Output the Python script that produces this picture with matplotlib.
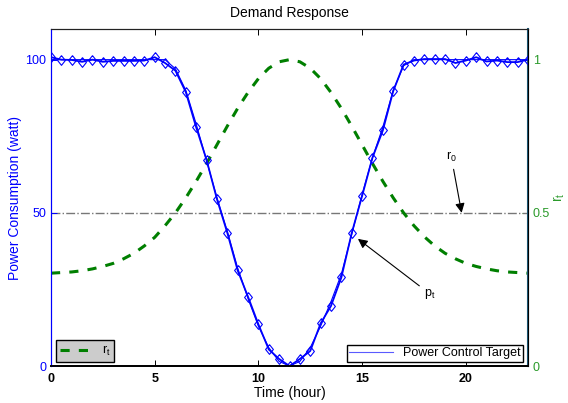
import matplotlib
matplotlib.use("Agg")
import matplotlib.pyplot as plt
import numpy as np

plt.rcParams["font.family"] = ["Liberation Sans", "DejaVu Sans"]
plt.rcParams["mathtext.fontset"] = "custom"
plt.rcParams["mathtext.rm"] = "Liberation Sans"
plt.rcParams["mathtext.it"] = "Liberation Sans"

# ── Data ──────────────────────────────────────────────────────────────────────
hours = np.arange(0, 23.01, 0.5)

power_measured = [100.8, 100.0, 99.9, 99.3, 100.0, 99.3, 99.6, 99.6, 99.6, 99.7,
                  100.8, 98.9, 96.4, 89.4, 77.9, 67.3, 54.5, 43.5, 31.2, 22.6,
                  13.6, 5.4, 2.3, 0.0, 2.3, 4.9, 13.9, 19.6, 28.9, 43.4,
                  55.5, 68.0, 76.9, 89.7, 98.4, 99.7, 100.2, 100.2, 100.2, 98.9,
                  99.7, 100.8, 99.4, 99.7, 99.2, 99.2, 100.0]

power_target = [100, 100, 100, 100, 100, 100, 100, 100, 100, 100,
                100, 100, 97, 90, 79, 67, 55, 44, 32, 22,
                13, 6, 1.5, 0, 1.5, 6, 13, 21, 30, 43,
                56, 68, 78, 90, 98, 100, 100, 100, 100, 100,
                100, 100, 100, 100, 100, 100, 100]

r_t = [0.303, 0.305, 0.307, 0.311, 0.317, 0.325, 0.335, 0.350, 0.368, 0.392,
       0.420, 0.458, 0.500, 0.549, 0.603, 0.661, 0.722, 0.783, 0.841, 0.893,
       0.938, 0.972, 0.993, 1.000, 0.993, 0.972, 0.938, 0.893, 0.841, 0.783,
       0.722, 0.661, 0.603, 0.549, 0.500, 0.458, 0.422, 0.392, 0.368, 0.350,
       0.335, 0.325, 0.317, 0.311, 0.307, 0.305, 0.303]

r_0 = 0.5

# ── Figure ────────────────────────────────────────────────────────────────────
fig = plt.figure(figsize=(5.68, 4.03), dpi=100)
ax = fig.add_axes([0.0898, 0.0918, 0.8398, 0.8362])
ax2 = ax.twinx()

diamond = [(0, 1), (0.8, 0), (0, -1), (-0.8, 0), (0, 1)]

ax.plot(hours, power_target, color="blue", linewidth=0.8,
        label="Power Control Target")
ax.plot(hours, power_measured, color="blue", linewidth=1.3, marker=diamond,
        markersize=7, markerfacecolor="none", markeredgewidth=0.8)

ax2.axhline(r_0, color="#777777", linestyle="-.", linewidth=1.0)
ax2.plot(hours, r_t, color="#007f00", linestyle="--", linewidth=2.2,
         dashes=(3, 3), label="r$_t$")

ax.set_xlim(0, 23)
ax.set_ylim(0, 110)
ax2.set_ylim(0, 1.1)
ax.set_xticks([0, 5, 10, 15, 20])
ax.set_yticks([0, 50, 100])
ax2.set_yticks([0, 0.5, 1])
ax2.set_yticklabels(["0", "0.5", "1"])

for a in (ax, ax2):
    a.tick_params(direction="in", length=4, width=0.7, labelsize=9)
ax.tick_params(axis="x", top=True, pad=5)
for lbl in ax.get_xticklabels():
    lbl.set_fontweight("bold")
ax.tick_params(axis="y", colors="blue")
ax2.tick_params(axis="y", colors="#2a9a2a")

ax.spines["left"].set_color("blue")
ax2.spines["left"].set_color("blue")
ax2.spines["right"].set_color("#1d5a78")
ax2.spines["right"].set_linewidth(1.5)
for a in (ax, ax2):
    a.spines["top"].set_color("#222222")
    a.spines["bottom"].set_color("black")
    a.spines["bottom"].set_linewidth(1.3)

ax.set_xlabel("Time (hour)", fontsize=10, labelpad=1)
ax.set_ylabel("Power Consumption (watt)", fontsize=10, color="blue", labelpad=2)
ax2.set_ylabel("r$_t$", fontsize=10, color="#2a9a2a")
ax2.yaxis.set_label_coords(1.05, 0.5)
ax.set_title("Demand Response", fontsize=10, pad=9)

# ── Annotations ───────────────────────────────────────────────────────────────
arrow = dict(arrowstyle="-|>", color="black", lw=0.8, mutation_scale=14,
             shrinkA=2, shrinkB=0)
ax2.annotate("r$_0$", xy=(19.8, 0.5), xytext=(19.3, 0.66), fontsize=9,
             ha="center", va="bottom", arrowprops=arrow)
ax.annotate("p$_t$", xy=(14.8, 41.5), xytext=(18.0, 23.5), fontsize=9,
            ha="left", va="center", arrowprops=arrow)

# ── Legends ───────────────────────────────────────────────────────────────────
leg1 = ax2.legend(loc="lower left", bbox_to_anchor=(0.01, 0.012),
                  fontsize=9, fancybox=False, facecolor="#cccccc",
                  edgecolor="black", framealpha=1, handlelength=2.6,
                  borderpad=0.3, borderaxespad=0)
leg1.get_frame().set_linewidth(1.0)
leg2 = ax.legend(loc="lower right", bbox_to_anchor=(0.99, 0.012),
                 fontsize=9, fancybox=False, facecolor="white",
                 edgecolor="black", framealpha=1, handlelength=3.5,
                 borderpad=0.2, borderaxespad=0)
leg2.get_frame().set_linewidth(1.0)
leg2.get_lines()[0].set_color("#5a5aff")

ax.set_zorder(ax2.get_zorder() + 1)
ax.patch.set_visible(False)

fig.savefig("out.png", dpi=100)
